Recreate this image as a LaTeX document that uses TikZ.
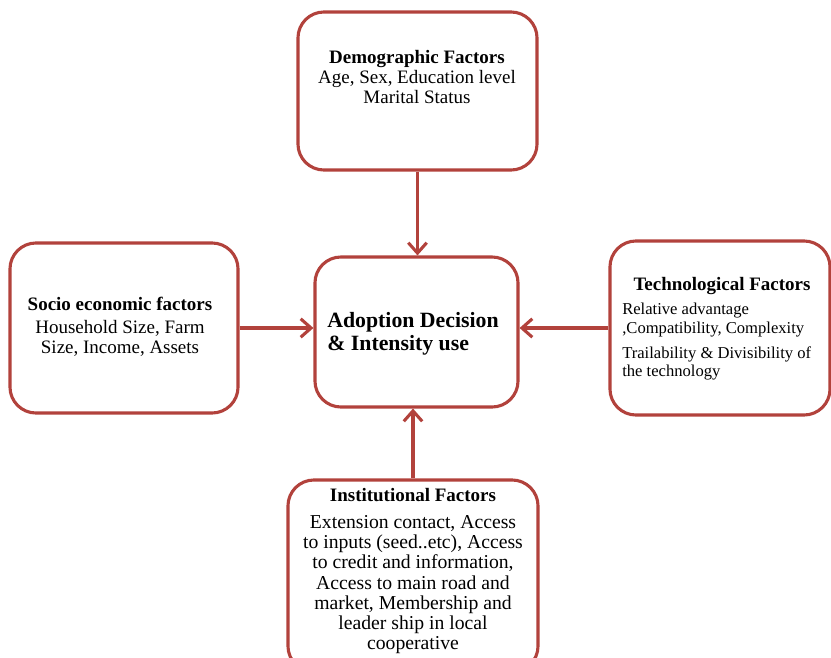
\documentclass[tikz,border=0pt]{standalone}
\usepackage{fontspec}
\setmainfont{Liberation Serif}
\usepackage{xcolor}
\usetikzlibrary{arrows.meta, positioning}
\definecolor{boxred}{RGB}{178,66,60}

\tikzset{
    factor/.style={draw=boxred, line width=2.2pt, rounded corners=0.65cm, fill=white},
    link/.style={draw=boxred, line width=2.2pt, -{Straight Barb[length=2.6mm,width=4.6mm]}},
    txt/.style={inner sep=0pt, font=\fontsize{13.5}{14.4}\selectfont}
}

\begin{document}
\begin{tikzpicture}[x=0.025cm, y=-0.025cm]
        \useasboundingbox (0,0) rectangle (831,658);
        \begin{scope}
        \clip (0,0) rectangle (831,658);
        \node[factor, minimum width=5.975cm, minimum height=3.95cm] at (417.5, 91)   (demo) {};
        \node[factor, minimum width=5.7cm, minimum height=4.25cm] at (124, 328)   (socio) {};
        \node[factor, minimum width=5.075cm, minimum height=3.75cm] at (416.5, 332)   (adopt) {};
        \node[factor, minimum width=5.5cm, minimum height=4.35cm] at (720, 328)   (tech) {};
        \node[factor, minimum width=6.25cm, minimum height=4.8cm] at (413, 576)   (inst) {};
        \end{scope}

        \node[txt, align=center] at (417, 77) (demotxt) {\textbf{Demographic Factors}\\ Age, Sex, Education level\\ Marital Status};
        \node[txt, align=center] at (120, 327) (sociotxt) {\textbf{Socio economic factors}\\[2pt] Household Size, Farm\\ Size, Income, Assets};
        \node[txt, align=left, font=\bfseries\fontsize{15.5}{16.5}\selectfont] at (413, 334) (adopttxt) {Adoption Decision\\ \& Intensity use};
        \node[txt, font=\fontsize{13.5}{14.4}\selectfont] at (722, 286) (techtitle) {\textbf{Technological Factors}};
        \node[txt, align=left, anchor=north west, font=\fontsize{11.8}{13.4}\selectfont] at (622, 303) (techtxt) {Relative advantage\\ ,Compatibility, Complexity\\[4pt] Trailability \& Divisibility of\\ the technology};
        \node[txt, align=center, font=\fontsize{14}{14.4}\selectfont] at (413, 571) (insttxt) {\textbf{\fontsize{13.5}{14.4}\selectfont Institutional Factors}\\[5pt] Extension contact, Access\\ to inputs (seed..etc), Access\\ to credit and information,\\ Access to main road and\\ market, Membership and\\ leader ship in local\\ cooperative};

        \draw[link] (demo.south) -- (demo.south |- adopt.north);
        \draw[link] (socio.east) -- (socio.east -| adopt.west);
        \draw[link] (tech.west) -- (tech.west -| adopt.east);
        \draw[link] (inst.north) -- (inst.north |- adopt.south);
\end{tikzpicture}
\end{document}
